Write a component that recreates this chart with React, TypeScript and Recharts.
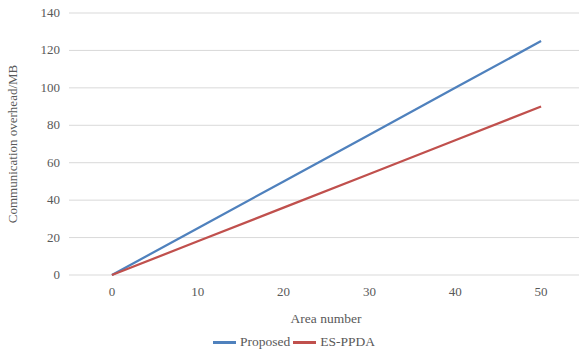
import { LineChart, Line, XAxis, YAxis, CartesianGrid, Legend } from 'recharts'

const areaNumbers = [0, 10, 20, 30, 40, 50]
const proposed = [0, 25, 50, 75, 100, 125]
const esPpda = [0, 18, 36, 54, 72, 90]
const yTicks = [0, 20, 40, 60, 80, 100, 120, 140]

const data = areaNumbers.map((x, i) => ({ x, proposed: proposed[i], esPpda: esPpda[i] }))

const FONT = "'Liberation Serif', 'DejaVu Serif', serif"
const TEXT = '#595959'
const textStyle = { fontFamily: FONT, fill: TEXT }

const XTick = ({ x, y, payload }: any) => (
  <text x={x} y={y + 19} textAnchor="middle" fontSize={13} style={textStyle}>
    {payload.value}
  </text>
)

const YTick = ({ x, y, payload }: any) => (
  <text x={x} y={y + 4} textAnchor="end" fontSize={13} style={textStyle}>
    {payload.value}
  </text>
)

const legendItems = [
  { key: 'proposed', name: 'Proposed', color: '#4f81bd' },
  { key: 'esPpda', name: 'ES-PPDA', color: '#c0504d' },
]

const LegendContent = () => (
  <div style={{ display: 'flex', justifyContent: 'center', alignItems: 'center', fontFamily: FONT, fontSize: 13.5, color: TEXT, height: 20, paddingLeft: 12 }}>
    {legendItems.map(p => (
      <span key={p.key} style={{ display: 'flex', alignItems: 'center', marginRight: 3 }}>
        <span style={{ display: 'inline-block', width: 23, height: 3, background: p.color, marginRight: 4 }} />
        {p.name}
      </span>
    ))}
  </div>
)

export default function App() {
  return (
    <div style={{ position: 'absolute', left: 0, top: 0, width: 579, height: 353, overflow: 'hidden', background: '#fff' }}>
      <LineChart width={600} height={353} data={data} margin={{ top: 13, right: 16, bottom: 28, left: 0 }}>
        <CartesianGrid stroke="#d9d9d9" vertical={false} />
        <XAxis
          dataKey="x"
          type="number"
          domain={[-5, 55]}
          ticks={areaNumbers}
          axisLine={false}
          tickLine={false}
          tickSize={0}
          height={30}
          tick={<XTick />}
        />
        <YAxis
          domain={[0, 140]}
          ticks={yTicks}
          axisLine={false}
          tickLine={false}
          tickSize={0}
          tickMargin={9}
          width={69}
          tick={<YTick />}
        />
        <Legend verticalAlign="bottom" wrapperStyle={{ bottom: 1, left: 0, width: 579 }} content={<LegendContent />} />
        <Line dataKey="proposed" name="Proposed" stroke="#4f81bd" strokeWidth={2.25} dot={false} isAnimationActive={false} />
        <Line dataKey="esPpda" name="ES-PPDA" stroke="#c0504d" strokeWidth={2.25} dot={false} isAnimationActive={false} />
        <text x={326} y={323} textAnchor="middle" fontSize={13.5} style={textStyle}>
          Area number
        </text>
        <text x={17} y={144} transform="rotate(-90 17 144)" textAnchor="middle" fontSize={13} style={textStyle}>
          Communication overhead/MB
        </text>
      </LineChart>
    </div>
  )
}
